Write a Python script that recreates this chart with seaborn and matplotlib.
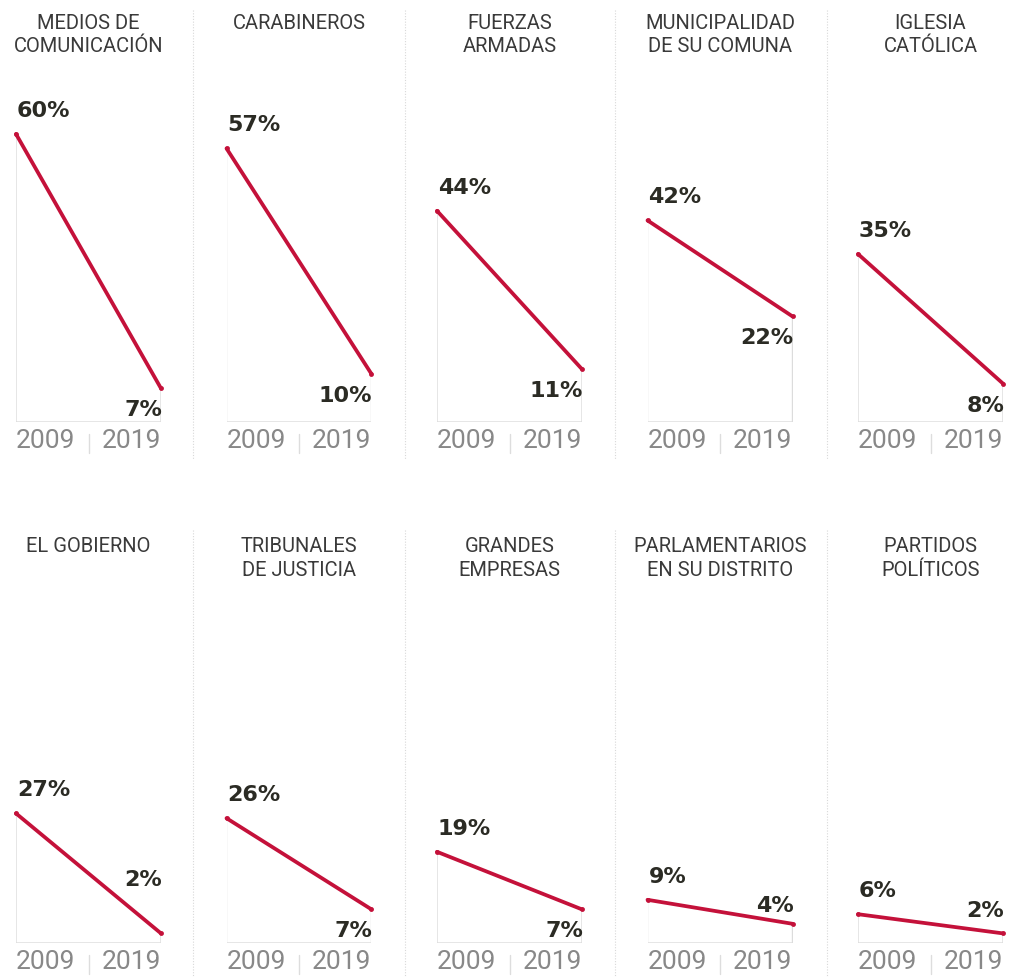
import matplotlib.pyplot as plt
import seaborn as sns
import pandas as pd
from matplotlib.lines import Line2D

# confianza en instituciones, 2009 vs 2019
titles = ["MEDIOS DE\nCOMUNICACIÓN", "CARABINEROS", "FUERZAS\nARMADAS",
          "MUNICIPALIDAD\nDE SU COMUNA", "IGLESIA\nCATÓLICA",
          "EL GOBIERNO", "TRIBUNALES\nDE JUSTICIA", "GRANDES\nEMPRESAS",
          "PARLAMENTARIOS\nEN SU DISTRITO", "PARTIDOS\nPOLÍTICOS"]
years = ["2009", "2019"]
v2009 = [60, 57, 44, 42, 35, 27, 26, 19, 9, 6]
v2019 = [7, 10, 11, 22, 8, 2, 7, 7, 4, 2]
# where the 2019 label sits relative to its point (pixels, + above / - below)
end_offset = [-12, -12, -12, -12, -12, 43, -12, -12, 8, 12]

RED = "#c4113a"
W, H = 1026, 977

sns.set_theme(style="white")
plt.rcParams['font.family'] = ['Roboto', 'DejaVu Sans']

fig = plt.figure(figsize=(W / 100, H / 100), dpi=100)

scale = 4.8          # px per percentage point
ymax = 65
ax_h = ymax * scale
ax_w = 145
baselines = [422, 943]

for i, title in enumerate(titles):
    row, col = divmod(i, 5)
    left = 16 + col * 210.5
    base = baselines[row]
    ax = fig.add_axes([left / W, (H - base) / H, ax_w / W, ax_h / H])

    df = pd.DataFrame({"x": [0, 1], "y": [v2009[i], v2019[i]]})
    ax.fill_between(df["x"], df["y"], facecolor="none", edgecolor="#dcdcdc", lw=1)
    sns.lineplot(data=df, x="x", y="y", ax=ax, color=RED, lw=2.7,
                 marker="o", markersize=3.5, markeredgewidth=0, clip_on=False)

    ax.set_xlim(0, 1)
    ax.set_ylim(0, ymax)
    ax.set_xlabel("")
    ax.set_ylabel("")
    ax.set_yticks([])
    ax.set_xticks([0, 1])
    ax.set_xticklabels(years, fontsize=19, color="#888888", fontweight="normal")
    ax.get_xticklabels()[0].set_ha("left")
    ax.get_xticklabels()[1].set_ha("right")
    ax.tick_params(axis="x", length=0, pad=5)
    for s in ax.spines.values():
        s.set_visible(False)

    # small divider between the two years
    ax.plot([0.5, 0.5], [-12 / ax_h, -31 / ax_h], transform=ax.transAxes,
            color="#dddddd", lw=1, clip_on=False)

    ax.annotate(f"{v2009[i]}%", (0, v2009[i]), xytext=(1, 13),
                textcoords="offset pixels", ha="left", va="bottom",
                fontsize=16, fontweight="bold", color="#2b2b24",
                family="DejaVu Sans")
    off = end_offset[i]
    ax.annotate(f"{v2019[i]}%", (1, v2019[i]), xytext=(1, off),
                textcoords="offset pixels", ha="right",
                va="bottom" if off > 0 else "top",
                fontsize=16, fontweight="bold", color="#2b2b24",
                family="DejaVu Sans")

    title_top = 14 if row == 0 else 537
    fig.text((left + ax_w / 2) / W, 1 - title_top / H, title, ha="center",
             va="top", fontsize=14.5, fontweight="normal", color="#3a3a3a",
             linespacing=1.3)

# dotted separators between columns
for x in [193, 405, 615, 827]:
    for y0, y1 in [(10, 460), (530, 977)]:
        fig.add_artist(Line2D([x / W, x / W], [1 - y0 / H, 1 - y1 / H],
                              transform=fig.transFigure, color="#d8d8d8",
                              lw=0.8, ls=(0, (1, 1.5))))

fig.savefig("out.png", dpi=100, facecolor="white")
